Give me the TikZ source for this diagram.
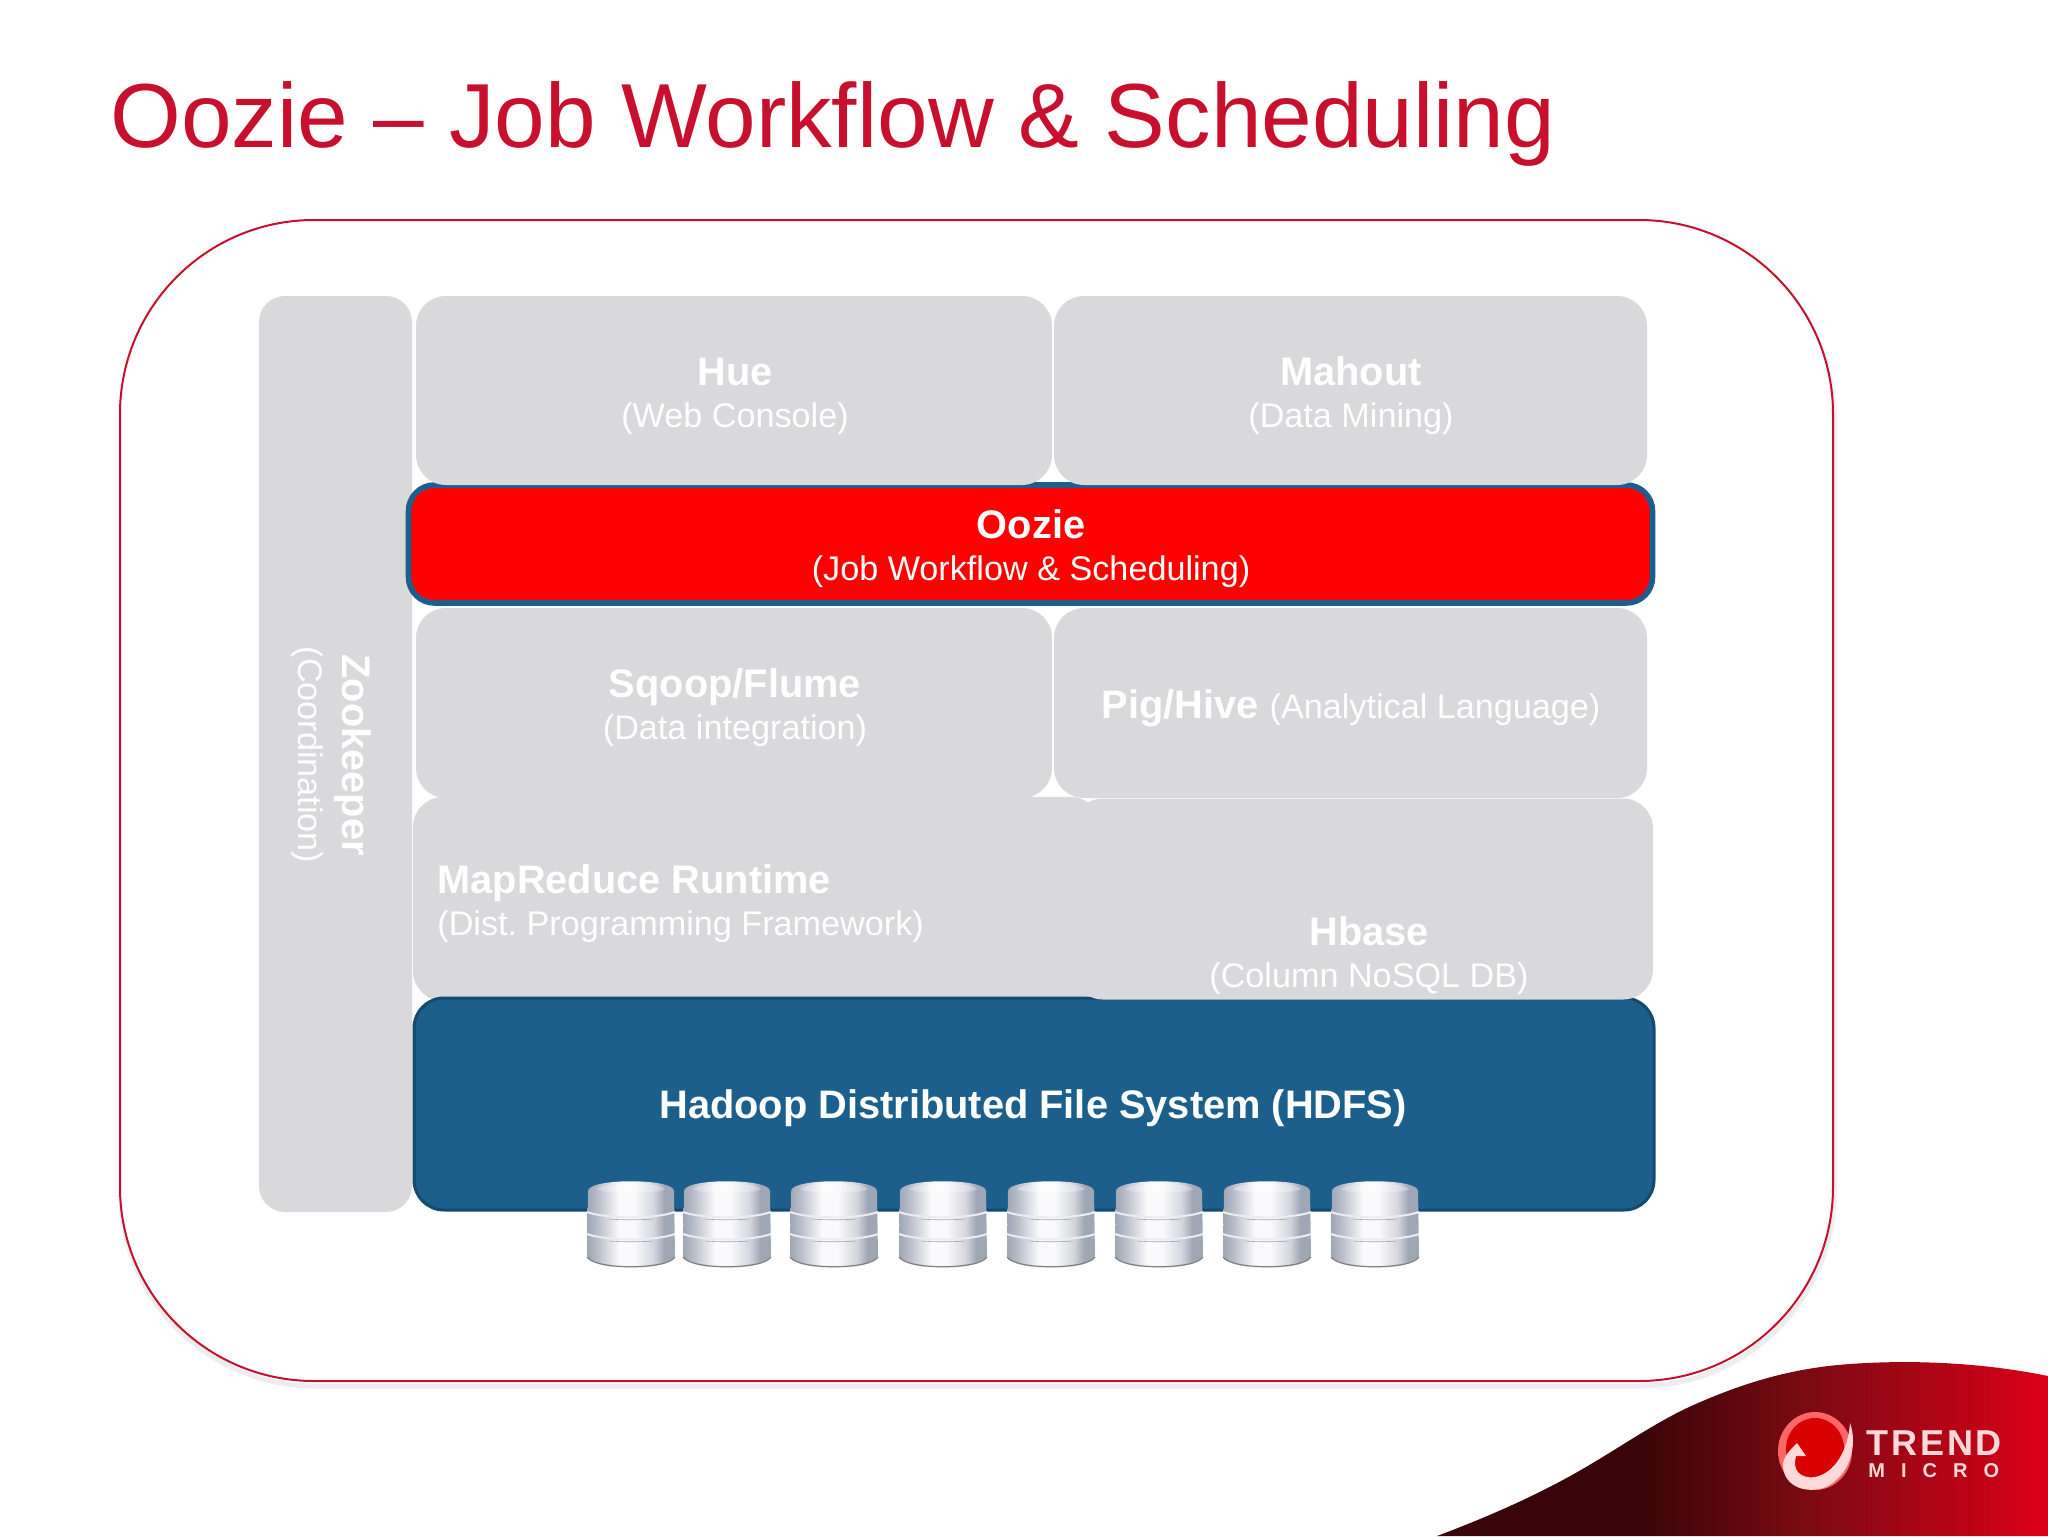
\documentclass[tikz,border=0pt]{standalone}
\usepackage{fontspec}
\setmainfont{Liberation Sans}
\newfontfamily\logofont[LetterSpace=8]{Liberation Sans}
\newfontfamily\logofontb[LetterSpace=80]{Liberation Sans}
\definecolor{titlered}{HTML}{C8102E}
\definecolor{lay}{HTML}{D9D8DB}
\definecolor{hblue}{HTML}{1D5F8C}
\definecolor{hdark}{HTML}{134A70}
\definecolor{cylA}{HTML}{9FA6B4}
\definecolor{cylB}{HTML}{B8BDC9}
\definecolor{cylC}{HTML}{FAFAFC}
\definecolor{cylD}{HTML}{D2D5DC}
\definecolor{swA}{HTML}{3A0508}
\definecolor{swB}{HTML}{7A0A12}
\definecolor{swC}{HTML}{DC0018}
\pgfdeclarehorizontalshading{cylshade}{100bp}{
  color(0bp)=(cylA); color(25bp)=(cylA); color(31bp)=(cylB); color(43bp)=(cylC);
  color(52bp)=(cylC); color(63bp)=(cylD); color(69bp)=(cylA); color(75bp)=(cylA); color(100bp)=(cylA)}
\pgfdeclarehorizontalshading{swoosh}{100bp}{
  color(0bp)=(swA); color(25bp)=(swA); color(42bp)=(swA); color(55bp)=(swB); color(75bp)=(swC); color(100bp)=(swC)}
\frenchspacing
\tikzset{
  layer/.style={draw=none,fill=lay,rounded corners=15pt,inner sep=0pt,outer sep=0pt},
  redlayer/.style={draw=hblue,line width=2.8pt,fill=red,rounded corners=13pt,inner sep=0pt},
  bluelayer/.style={draw=hdark,line width=1.5pt,fill=hblue,rounded corners=15pt,inner sep=0pt},
  head/.style={anchor=base,text=white,font=\bfseries\fontsize{19.9}{22}\selectfont,inner sep=0pt},
  sub/.style={anchor=base,text=white,font=\fontsize{17.1}{20}\selectfont,inner sep=0pt},
  headl/.style={head,anchor=base west},
  subl/.style={sub,anchor=base west},
}
\begin{document}
\begin{tikzpicture}[x=0.5pt,y=-0.5pt]
\useasboundingbox (0,0) rectangle (2048,1536);
\fill[white] (0,0) rectangle (2048,1536);
% title
\node[anchor=base west,inner sep=0pt,text=titlered,font=\fontsize{45.5}{50}\selectfont] (title) at (110,148) {Oozie – Job Workflow \& Scheduling};
% swoosh
\path[shading=swoosh]
  (1437,1536) .. controls (1490,1516) and (1540,1494) .. (1586,1467)
  .. controls (1625,1444) and (1655,1423) .. (1689,1407)
  .. controls (1740,1384) and (1790,1368) .. (1850,1364)
  .. controls (1920,1359) and (1990,1364) .. (2048,1376)
  -- (2048,1536) -- cycle;
% logo
\fill[red!60!white] (1815,1451) ellipse [x radius=37,y radius=39];
\fill[red!85!black] (1815,1449) ellipse [x radius=29,y radius=31];
\fill[white!85!red] (1850,1423) .. controls (1858,1445) and (1850,1475) .. (1826,1487)
  .. controls (1808,1494) and (1785,1488) .. (1783,1467)
  .. controls (1782,1458) and (1790,1450) .. (1797,1443)
  -- (1806,1456) -- (1796,1456) .. controls (1792,1470) and (1800,1479) .. (1815,1477)
  .. controls (1835,1473) and (1848,1450) .. (1850,1423) -- cycle;
\node[anchor=base west,inner sep=0pt,text=white!85!red,font=\logofont\bfseries\fontsize{18}{18}\selectfont] (trend) at (1866,1455) {TREND};
\node[anchor=base west,inner sep=0pt,text=white!85!red,font=\logofontb\bfseries\fontsize{10}{10}\selectfont] (micro) at (1868,1477) {MICRO};
% outer frame
\draw[black!7,line width=2.5pt,rounded corners=97pt] (121,225) rectangle (1834,1386);
\node[draw=titlered,fill=white,line width=1pt,rounded corners=97pt,minimum width=856.5pt,minimum height=580.5pt,inner sep=0pt] (frame) at (976.5,800.5) {};
% layers
\node[layer,rounded corners=13pt,minimum width=76.5pt,minimum height=458pt] (zoo) at (335.5,754) {};
\node[redlayer,minimum width=622pt,minimum height=59pt] (oozie) at (1030.5,544) {};
\node[layer,minimum width=318pt,minimum height=94.5pt] (hue) at (734,390.5) {};
\node[layer,minimum width=296.5pt,minimum height=94.5pt] (mahout) at (1350.5,390.5) {};
\node[layer,minimum width=318pt,minimum height=95pt] (sqoop) at (734,703) {};
\node[layer,minimum width=296.5pt,minimum height=95pt] (pig) at (1350.5,703) {};
\node[layer,minimum width=344pt,minimum height=102pt] (mapred) at (757,899) {};
\node[bluelayer,minimum width=620pt,minimum height=106pt] (hdfs) at (1034,1104) {};
\node[layer,minimum width=290pt,minimum height=100.5pt] (hbase) at (1363,899) {};
% labels
\node[head] (huet) at (735,385) {Hue};
\node[sub] (huec) at (735,427) {(Web Console)};
\node[head] (mat) at (1351,385) {Mahout};
\node[sub] (mac) at (1351,427) {(Data Mining)};
\node[head] (oot) at (1031,538) {Oozie};
\node[sub] (ooc) at (1031,580) {(Job Workflow \& Scheduling)};
\node[head] (sqt) at (735,697) {Sqoop/Flume};
\node[sub] (sqc) at (735,739) {(Data integration)};
\node[anchor=base,inner sep=0pt,text=white] (pigt) at (1351,718) {\bfseries\fontsize{19.9}{22}\selectfont Pig/Hive \mdseries\fontsize{17.1}{20}\selectfont (Analytical Language)};
\node[headl] (mrt) at (437,893) {MapReduce Runtime};
\node[subl] (mrc) at (437,935) {(Dist. Programming Framework)};
\node[head] (hbt) at (1369,945) {Hbase};
\node[sub] (hbc) at (1369,987) {(Column NoSQL DB)};
\node[head] (hdt) at (1033,1118) {Hadoop Distributed File System (HDFS)};
\node[head,rotate=-90] (zot) at (342,755) {Zookeeper};
\node[sub,rotate=-90] (zoc) at (298,755) {(Coordination)};
% disks
\foreach \i/\cx in {1/631,2/727,3/834,4/943,5/1051,6/1159,7/1267,8/1375}{
  \path[shading=cylshade] (\cx-43,1191) .. controls (\cx-43,1178) and (\cx+43,1178) .. (\cx+43,1191)
     -- (\cx+44,1256) .. controls (\cx+38,1272) and (\cx-38,1272) .. (\cx-44,1256) -- cycle;
  \fill[white,opacity=.3] (\cx-34,1189) .. controls (\cx-28,1182) and (\cx+28,1182) .. (\cx+34,1189)
     .. controls (\cx+28,1194) and (\cx-28,1194) .. (\cx-34,1189) -- cycle;
  \draw[white!80!cylA,line width=1pt] (\cx-44,1212) .. controls (\cx-25,1219) and (\cx+25,1219) .. (\cx+44,1212);
  \draw[white!80!cylA,line width=1pt] (\cx-44,1234) .. controls (\cx-25,1241) and (\cx+25,1241) .. (\cx+44,1234);
  \draw[black!35,line width=.3pt] (\cx-22,1219) .. controls (\cx-10,1220) and (\cx+10,1220) .. (\cx+22,1219);
  \draw[black!35,line width=.3pt] (\cx-22,1241) .. controls (\cx-10,1242) and (\cx+10,1242) .. (\cx+22,1241);
  \draw[black!50,line width=.6pt] (\cx-44,1257) .. controls (\cx-36,1270) and (\cx+36,1270) .. (\cx+44,1257);
}
\end{tikzpicture}
\end{document}
